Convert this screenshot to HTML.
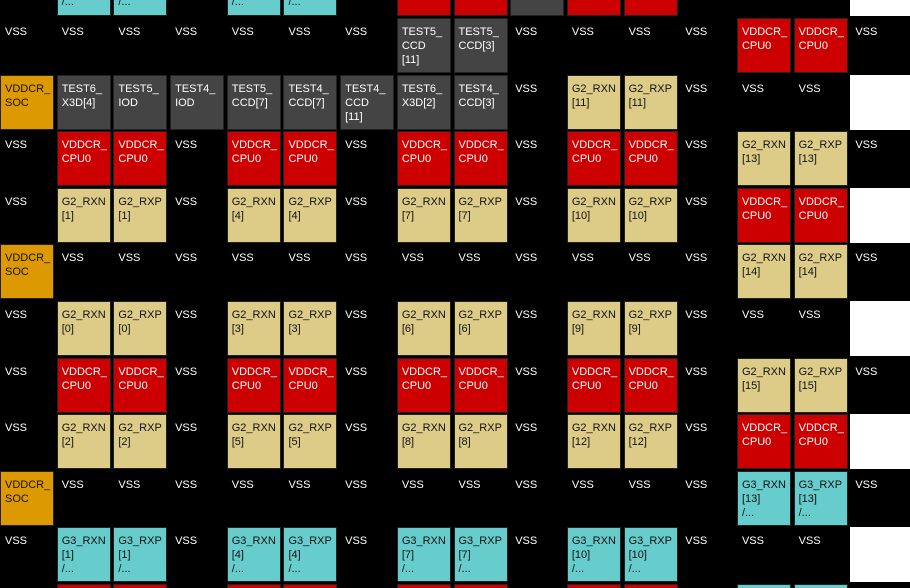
<!DOCTYPE html><html style="height:588px;overflow:hidden"><head><style>
html,body{margin:0;width:910px;height:588px;overflow:hidden;}
body{background:#000;position:relative;font-family:"Liberation Sans",sans-serif;font-size:11px;}
.row{position:absolute;left:0;height:55px;display:flex;gap:2.7px;}
.row div{width:52px;height:53px;border:1px solid #222;padding:0;box-sizing:content-box;position:relative;}
.row div span{position:absolute;left:4px;top:6px;line-height:14px;white-space:pre;}
.top{top:0;height:16px;overflow:hidden}
.top div{height:15px;border-top:none}
.top div span{top:-4.6px}
.bot{top:584px;height:4px;overflow:hidden}
.bot div{height:3px;border-bottom:none}
.k{background:#000;border-color:#000!important;color:#fff}
.r{background:#cc0000;color:#fff}
.t{background:#ddcc88;color:#111}
.c{background:#66cccc;color:#111}
.g{background:#444;color:#fff}
.o{background:#dd9900;color:#111}
.w{background:#fff;border-color:#fff!important;width:60px!important}
</style></head><body>
<div class="row top">
<div class="k"></div><div class="c"><span>/...</span></div><div class="c"><span>/...</span></div><div class="k"></div><div class="c"><span>/...</span></div><div class="c"><span>/...</span></div><div class="k"></div><div class="r"></div><div class="r"></div><div class="g"></div><div class="r"></div><div class="r"></div><div class="k"></div><div class="k"></div><div class="k"></div><div class="w"></div></div>
<div class="row" style="top:18px">
<div class="k"><span>VSS</span></div><div class="k"><span>VSS</span></div><div class="k"><span>VSS</span></div><div class="k"><span>VSS</span></div><div class="k"><span>VSS</span></div><div class="k"><span>VSS</span></div><div class="k"><span>VSS</span></div><div class="g"><span>TEST5_
CCD
[11]</span></div><div class="g"><span>TEST5_
CCD[3]</span></div><div class="k"><span>VSS</span></div><div class="k"><span>VSS</span></div><div class="k"><span>VSS</span></div><div class="k"><span>VSS</span></div><div class="r"><span>VDDCR_
CPU0</span></div><div class="r"><span>VDDCR_
CPU0</span></div><div class="k"><span>VSS</span></div></div>
<div class="row" style="top:74.6px">
<div class="o"><span>VDDCR_
SOC</span></div><div class="g"><span>TEST6_
X3D[4]</span></div><div class="g"><span>TEST5_
IOD</span></div><div class="g"><span>TEST4_
IOD</span></div><div class="g"><span>TEST5_
CCD[7]</span></div><div class="g"><span>TEST4_
CCD[7]</span></div><div class="g"><span>TEST4_
CCD
[11]</span></div><div class="g"><span>TEST6_
X3D[2]</span></div><div class="g"><span>TEST4_
CCD[3]</span></div><div class="k"><span>VSS</span></div><div class="t"><span>G2_RXN
[11]</span></div><div class="t"><span>G2_RXP
[11]</span></div><div class="k"><span>VSS</span></div><div class="k"><span>VSS</span></div><div class="k"><span>VSS</span></div><div class="w"></div></div>
<div class="row" style="top:131.2px">
<div class="k"><span>VSS</span></div><div class="r"><span>VDDCR_
CPU0</span></div><div class="r"><span>VDDCR_
CPU0</span></div><div class="k"><span>VSS</span></div><div class="r"><span>VDDCR_
CPU0</span></div><div class="r"><span>VDDCR_
CPU0</span></div><div class="k"><span>VSS</span></div><div class="r"><span>VDDCR_
CPU0</span></div><div class="r"><span>VDDCR_
CPU0</span></div><div class="k"><span>VSS</span></div><div class="r"><span>VDDCR_
CPU0</span></div><div class="r"><span>VDDCR_
CPU0</span></div><div class="k"><span>VSS</span></div><div class="t"><span>G2_RXN
[13]</span></div><div class="t"><span>G2_RXP
[13]</span></div><div class="k"><span>VSS</span></div></div>
<div class="row" style="top:187.8px">
<div class="k"><span>VSS</span></div><div class="t"><span>G2_RXN
[1]</span></div><div class="t"><span>G2_RXP
[1]</span></div><div class="k"><span>VSS</span></div><div class="t"><span>G2_RXN
[4]</span></div><div class="t"><span>G2_RXP
[4]</span></div><div class="k"><span>VSS</span></div><div class="t"><span>G2_RXN
[7]</span></div><div class="t"><span>G2_RXP
[7]</span></div><div class="k"><span>VSS</span></div><div class="t"><span>G2_RXN
[10]</span></div><div class="t"><span>G2_RXP
[10]</span></div><div class="k"><span>VSS</span></div><div class="r"><span>VDDCR_
CPU0</span></div><div class="r"><span>VDDCR_
CPU0</span></div><div class="w"></div></div>
<div class="row" style="top:244.4px">
<div class="o"><span>VDDCR_
SOC</span></div><div class="k"><span>VSS</span></div><div class="k"><span>VSS</span></div><div class="k"><span>VSS</span></div><div class="k"><span>VSS</span></div><div class="k"><span>VSS</span></div><div class="k"><span>VSS</span></div><div class="k"><span>VSS</span></div><div class="k"><span>VSS</span></div><div class="k"><span>VSS</span></div><div class="k"><span>VSS</span></div><div class="k"><span>VSS</span></div><div class="k"><span>VSS</span></div><div class="t"><span>G2_RXN
[14]</span></div><div class="t"><span>G2_RXP
[14]</span></div><div class="k"><span>VSS</span></div></div>
<div class="row" style="top:301px">
<div class="k"><span>VSS</span></div><div class="t"><span>G2_RXN
[0]</span></div><div class="t"><span>G2_RXP
[0]</span></div><div class="k"><span>VSS</span></div><div class="t"><span>G2_RXN
[3]</span></div><div class="t"><span>G2_RXP
[3]</span></div><div class="k"><span>VSS</span></div><div class="t"><span>G2_RXN
[6]</span></div><div class="t"><span>G2_RXP
[6]</span></div><div class="k"><span>VSS</span></div><div class="t"><span>G2_RXN
[9]</span></div><div class="t"><span>G2_RXP
[9]</span></div><div class="k"><span>VSS</span></div><div class="k"><span>VSS</span></div><div class="k"><span>VSS</span></div><div class="w"></div></div>
<div class="row" style="top:357.6px">
<div class="k"><span>VSS</span></div><div class="r"><span>VDDCR_
CPU0</span></div><div class="r"><span>VDDCR_
CPU0</span></div><div class="k"><span>VSS</span></div><div class="r"><span>VDDCR_
CPU0</span></div><div class="r"><span>VDDCR_
CPU0</span></div><div class="k"><span>VSS</span></div><div class="r"><span>VDDCR_
CPU0</span></div><div class="r"><span>VDDCR_
CPU0</span></div><div class="k"><span>VSS</span></div><div class="r"><span>VDDCR_
CPU0</span></div><div class="r"><span>VDDCR_
CPU0</span></div><div class="k"><span>VSS</span></div><div class="t"><span>G2_RXN
[15]</span></div><div class="t"><span>G2_RXP
[15]</span></div><div class="k"><span>VSS</span></div></div>
<div class="row" style="top:414.2px">
<div class="k"><span>VSS</span></div><div class="t"><span>G2_RXN
[2]</span></div><div class="t"><span>G2_RXP
[2]</span></div><div class="k"><span>VSS</span></div><div class="t"><span>G2_RXN
[5]</span></div><div class="t"><span>G2_RXP
[5]</span></div><div class="k"><span>VSS</span></div><div class="t"><span>G2_RXN
[8]</span></div><div class="t"><span>G2_RXP
[8]</span></div><div class="k"><span>VSS</span></div><div class="t"><span>G2_RXN
[12]</span></div><div class="t"><span>G2_RXP
[12]</span></div><div class="k"><span>VSS</span></div><div class="r"><span>VDDCR_
CPU0</span></div><div class="r"><span>VDDCR_
CPU0</span></div><div class="w"></div></div>
<div class="row" style="top:470.8px">
<div class="o"><span>VDDCR_
SOC</span></div><div class="k"><span>VSS</span></div><div class="k"><span>VSS</span></div><div class="k"><span>VSS</span></div><div class="k"><span>VSS</span></div><div class="k"><span>VSS</span></div><div class="k"><span>VSS</span></div><div class="k"><span>VSS</span></div><div class="k"><span>VSS</span></div><div class="k"><span>VSS</span></div><div class="k"><span>VSS</span></div><div class="k"><span>VSS</span></div><div class="k"><span>VSS</span></div><div class="c"><span>G3_RXN
[13]
/...</span></div><div class="c"><span>G3_RXP
[13]
/...</span></div><div class="k"><span>VSS</span></div></div>
<div class="row" style="top:527.4px;height:56px">
<div class="k"><span>VSS</span></div><div class="c"><span>G3_RXN
[1]
/...</span></div><div class="c"><span>G3_RXP
[1]
/...</span></div><div class="k"><span>VSS</span></div><div class="c"><span>G3_RXN
[4]
/...</span></div><div class="c"><span>G3_RXP
[4]
/...</span></div><div class="k"><span>VSS</span></div><div class="c"><span>G3_RXN
[7]
/...</span></div><div class="c"><span>G3_RXP
[7]
/...</span></div><div class="k"><span>VSS</span></div><div class="c"><span>G3_RXN
[10]
/...</span></div><div class="c"><span>G3_RXP
[10]
/...</span></div><div class="k"><span>VSS</span></div><div class="k"><span>VSS</span></div><div class="k"><span>VSS</span></div><div class="w"></div></div>
<div class="row bot">
<div class="k"></div><div class="r"></div><div class="r"></div><div class="k"></div><div class="r"></div><div class="r"></div><div class="k"></div><div class="r"></div><div class="r"></div><div class="k"></div><div class="r"></div><div class="r"></div><div class="k"></div><div class="c"></div><div class="c"></div><div class="k"></div></div>
</body></html>
